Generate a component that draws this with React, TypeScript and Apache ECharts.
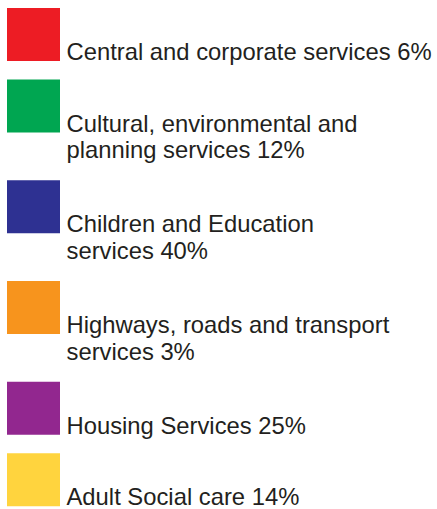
import React, { useEffect, useRef } from "react";
import * as echarts from "echarts";

// Data
const categories = [
  "Central and corporate services",
  "Cultural, environmental and\nplanning services",
  "Children and Education\nservices",
  "Highways, roads and transport\nservices",
  "Housing Services",
  "Adult Social care",
];
const values = [6, 12, 40, 3, 25, 14];
const colors = ["#ED1C24", "#00A651", "#2E3192", "#F7941D", "#92278F", "#FFD43E"];

// Layout constants
const W = 437;
const H = 509;
const ICON = 53;
const ICON_LEFT = 7;
const TEXT_LEFT = 66.5;
const FONT = 23.8;
const LINE_H = 26.5;
const SINGLE_LINE_H = 21;
const CENTRAL = 8.5; // distance from line centre to alphabetic baseline
const BASELINE_FROM_TOP = 52;
const FIRST_TOP = 8;
const ITEM_PITCH = 71.5;
const EXTRA_LINE_PITCH = 29.25;

export default function App() {
  const ref = useRef<HTMLDivElement>(null);

  useEffect(() => {
    if (!ref.current) return;
    const chart = echarts.init(ref.current, null, { renderer: "svg" });

    const elements: any[] = [];
    let top = FIRST_TOP;
    categories.forEach((name, i) => {
      const label = `${name} ${values[i]}%`;
      const n = label.split("\n").length;
      const lh = n === 1 ? SINGLE_LINE_H : LINE_H;
      elements.push({
        type: "group",
        silent: true,
        children: [
          {
            type: "rect",
            shape: { x: ICON_LEFT, y: top, width: ICON, height: ICON },
            style: { fill: colors[i] },
          },
          {
            type: "text",
            x: TEXT_LEFT,
            y: top + BASELINE_FROM_TOP - CENTRAL - lh / 2,
            style: {
              text: label,
              fill: "#231F20",
              fontFamily: "'Liberation Sans', Arial, sans-serif",
              fontSize: FONT,
              lineHeight: lh,
              align: "left",
              verticalAlign: "top",
            },
          },
        ],
      });
      top += ITEM_PITCH + (n - 1) * EXTRA_LINE_PITCH;
    });

    chart.setOption({
      animation: false,
      backgroundColor: "#ffffff",
      graphic: { elements },
    });

    return () => chart.dispose();
  }, []);

  return (
    <div
      ref={ref}
      style={{ position: "fixed", left: 0, top: 0, width: W, height: H }}
    />
  );
}
